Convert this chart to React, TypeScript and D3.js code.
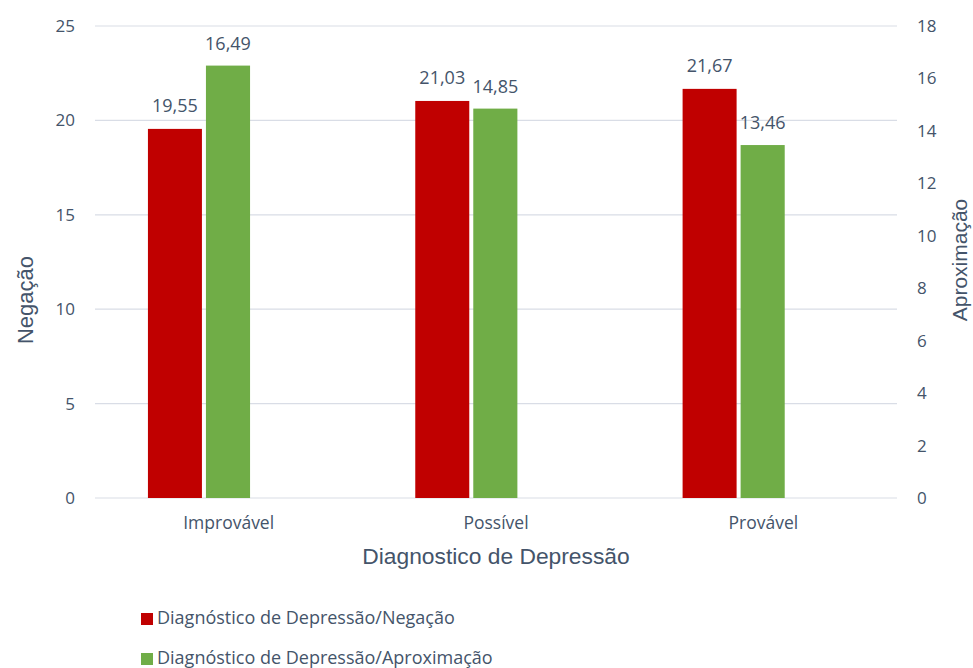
import * as d3 from 'd3';

const CATEGORIES = ['Improvável', 'Possível', 'Provável'];
const NEGACAO = [19.55, 21.03, 21.67];
const APROXIMACAO = [16.49, 14.85, 13.46];
const LEFT_TICKS = [0, 5, 10, 15, 20, 25];
const RIGHT_TICKS = [0, 2, 4, 6, 8, 10, 12, 14, 16, 18];
const SERIES_NAMES = ['Diagnóstico de Depressão/Negação', 'Diagnóstico de Depressão/Aproximação'];

const RED = '#c00000';
const GREEN = '#70ad47';
const TEXT = '#44546a';
const GRID = '#d9dde6';
const SANS = '"Open Sans", sans-serif';
const TITLE_FONT = '"Liberation Sans", Arial, sans-serif';

const fmt = (v: number) => v.toFixed(2).replace('.', ',');

export default function App() {
  const width = 973;
  const height = 668;
  const plot = { left: 95, right: 897, top: 26, bottom: 498 };

  const x = d3.scaleBand<string>().domain(CATEGORIES).range([plot.left, plot.right]);
  const yL = d3.scaleLinear().domain([0, 25]).range([plot.bottom, plot.top]);
  const yR = d3.scaleLinear().domain([0, 18]).range([plot.bottom, plot.top]);
  const bw = x.bandwidth();

  // bar placement inside each band (red on left, green centred)
  const redX = (c: string) => (x(c) ?? 0) + bw * 0.198;
  const redW = bw * 0.202;
  const greenX = (c: string) => (x(c) ?? 0) + bw * 0.415;
  const greenW = bw * 0.165;

  return (
    <svg
      width={width}
      height={height}
      style={{ position: 'absolute', top: 0, left: 0, background: 'white' }}
    >
      {/* gridlines */}
      {LEFT_TICKS.map(t => (
        <line key={t} x1={plot.left} x2={plot.right} y1={yL(t)} y2={yL(t)} stroke={GRID} strokeWidth={1.2} />
      ))}

      {/* left ticks */}
      {LEFT_TICKS.map(t => (
        <text key={t} x={75} y={yL(t)} dy="0.35em" textAnchor="end" fontSize={17} fontFamily={SANS} fill={TEXT}>
          {t}
        </text>
      ))}

      {/* right ticks */}
      {RIGHT_TICKS.map(t => (
        <text key={t} x={917} y={yR(t)} dy="0.35em" textAnchor="start" fontSize={17} fontFamily={SANS} fill={TEXT}>
          {t}
        </text>
      ))}

      {/* bars */}
      {CATEGORIES.map((c, i) => (
        <g key={c}>
          <rect x={redX(c)} y={yL(NEGACAO[i])} width={redW} height={plot.bottom - yL(NEGACAO[i])} fill={RED} />
          <rect x={greenX(c)} y={yR(APROXIMACAO[i])} width={greenW} height={plot.bottom - yR(APROXIMACAO[i])} fill={GREEN} />
          <text x={redX(c) + redW / 2} y={yL(NEGACAO[i]) - 17} textAnchor="middle" fontSize={18} fontFamily={SANS} fill={TEXT}>
            {fmt(NEGACAO[i])}
          </text>
          <text x={greenX(c) + greenW / 2} y={yR(APROXIMACAO[i]) - 16} textAnchor="middle" fontSize={18} fontFamily={SANS} fill={TEXT}>
            {fmt(APROXIMACAO[i])}
          </text>
          <text x={(x(c) ?? 0) + bw / 2} y={529} textAnchor="middle" fontSize={17.5} fontFamily={SANS} fill={TEXT}>
            {c}
          </text>
        </g>
      ))}

      {/* axis titles */}
      <text x={496} y={564} textAnchor="middle" fontSize={22.8} fontFamily={TITLE_FONT} fill={TEXT}>
        Diagnostico de Depressão
      </text>
      <text transform="translate(33,300) rotate(-90)" textAnchor="middle" fontSize={22} fontFamily={TITLE_FONT} fill={TEXT}>
        Negação
      </text>
      <text transform="translate(967,260) rotate(-90)" textAnchor="middle" fontSize={21} fontFamily={TITLE_FONT} fill={TEXT}>
        Aproximação
      </text>

      {/* legend */}
      {SERIES_NAMES.map((name, i) => (
        <g key={name} transform={`translate(141,${613 + i * 40})`}>
          <rect x={0} y={0} width={12} height={12} fill={i === 0 ? RED : GREEN} />
          <text x={16} y={10.5} fontSize={18} fontFamily={SANS} fill={TEXT}>
            {name}
          </text>
        </g>
      ))}
    </svg>
  );
}
